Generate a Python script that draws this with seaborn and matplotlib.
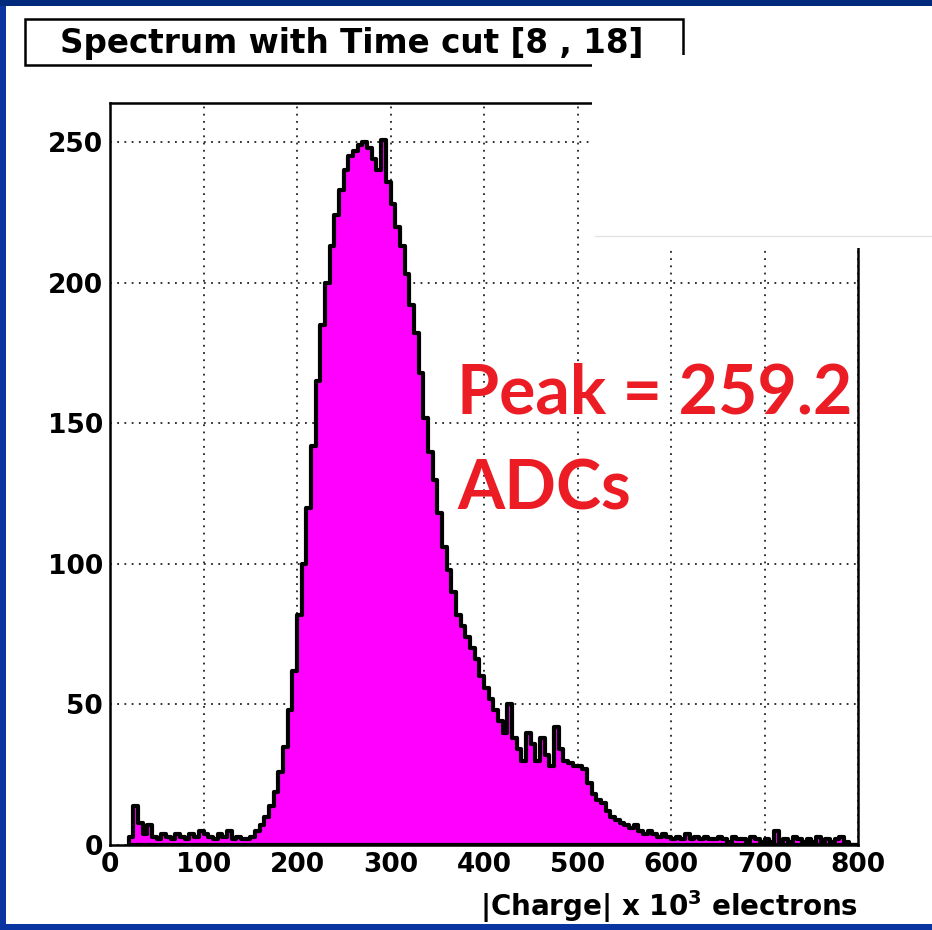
import numpy as np
import pandas as pd
import seaborn as sns
import matplotlib.pyplot as plt
from matplotlib.patches import Rectangle
from matplotlib.ticker import MultipleLocator

TITLE = "Spectrum with Time cut [8 , 18]"
X_LABEL = r"|Charge| x 10$^{\mathbf{3}}$ electrons"
NOTE_1 = "Peak = 259.2"
NOTE_2 = "ADCs"

# histogram counts, 5 units per bin starting at 20
BIN_START = 20
BIN_WIDTH = 5
counts = [
    3, 14, 8, 4, 7, 3, 2, 4, 3, 2,          # 20 - 65
    4, 3, 2, 4, 3, 5, 4, 3, 2, 4,           # 70 - 115
    3, 5, 2, 3, 2, 2, 3, 5, 7, 10,          # 120 - 165
    14, 19, 26, 35, 48, 62, 82, 100, 120, 142,   # 170 - 215
    165, 185, 200, 213, 224, 233, 240, 245, 247, 249,   # 220 - 265
    250, 248, 244, 240, 251, 236, 228, 220, 213, 203,   # 270 - 315
    192, 182, 168, 152, 140, 130, 118, 106, 98, 90,     # 320 - 365
    82, 78, 74, 70, 66, 60, 56, 52, 48, 44,             # 370 - 415
    40, 50, 38, 34, 30, 40, 36, 30, 38, 32,             # 420 - 465
    28, 42, 34, 30, 29, 28, 28, 27, 22, 18,             # 470 - 515
    16, 15, 12, 10, 9, 8, 7, 6, 7, 5,                   # 520 - 565
    4, 5, 4, 3, 4, 3, 2, 3, 2, 4,                       # 570 - 615
    2, 3, 2, 3, 2, 2, 3, 2, 1, 3,                       # 620 - 665
    2, 2, 1, 3, 2, 1, 2, 1, 5, 1,                       # 670 - 715
    2, 1, 3, 2, 1, 2, 1, 3, 1, 2,                       # 720 - 765
    1, 2, 3, 1, 0, 0,                                   # 770 - 795
]
x_ticks = [0, 100, 200, 300, 400, 500, 600, 700, 800]
y_ticks = [0, 50, 100, 150, 200, 250]

W, H = 932, 930


def px_rect(fig, x0, y0, x1, y1, **kw):
    # rectangle given in pixels from the top-left corner of the image
    r = Rectangle((x0 / W, 1 - y1 / H), (x1 - x0) / W, (y1 - y0) / H,
                  transform=fig.transFigure, **kw)
    fig.add_artist(r)
    return r


def draw():
    sns.set_style("white")
    plt.rcParams["font.family"] = ["DejaVu Sans"]
    plt.rcParams["font.weight"] = "bold"
    plt.rcParams["mathtext.default"] = "bf"
    plt.rcParams["text.color"] = "black"
    plt.rcParams["axes.labelcolor"] = "black"
    plt.rcParams["xtick.color"] = "black"
    plt.rcParams["ytick.color"] = "black"

    fig = plt.figure(figsize=(W / 100, H / 100), dpi=100)
    fig.patch.set_facecolor("white")
    ax = fig.add_axes([110 / W, 1 - 845 / H, 748 / W, 742 / H])

    df = pd.DataFrame({
        "charge": BIN_START + BIN_WIDTH * (np.arange(len(counts)) + 0.5),
        "count": counts,
    })
    sns.histplot(ax=ax, data=df, x="charge", weights="count",
                 binwidth=BIN_WIDTH,
                 binrange=(BIN_START, BIN_START + BIN_WIDTH * len(counts)),
                 element="step", fill=True, color="#ff00ff", alpha=1,
                 edgecolor="black", linewidth=3)

    ax.set_xlim(0, 800)
    ax.set_ylim(0, 264)
    ax.set_xticks(x_ticks)
    ax.set_yticks(y_ticks)
    ax.xaxis.set_minor_locator(MultipleLocator(20))
    ax.yaxis.set_minor_locator(MultipleLocator(10))
    ax.tick_params(which="major", direction="in", length=14, width=1.6,
                   labelsize=19, top=False, right=False, colors="black")
    ax.tick_params(which="minor", direction="in", length=8, width=1.4,
                   colors="black")
    ax.tick_params(axis="x", pad=5)
    ax.tick_params(axis="y", pad=5)
    for lab in ax.get_xticklabels() + ax.get_yticklabels():
        lab.set_fontweight("bold")

    ax.set_axisbelow(True)
    ax.grid(True, which="major", color="#222222", linestyle=(0, (1, 3)),
            linewidth=1.3)
    for s in ax.spines.values():
        s.set_visible(True)
        s.set_color("black")
        s.set_linewidth(1.8)

    ax.set_ylabel("")
    ax.set_xlabel(X_LABEL, fontsize=20, fontweight="bold", loc="right",
                  labelpad=7, color="black")

    fig.text(457 / W, 1 - 413 / H, NOTE_1, color="#ec1c24", fontsize=49,
             fontweight="bold", family=["Lato", "DejaVu Sans"],
             va="baseline", ha="left")
    fig.text(457 / W, 1 - 509 / H, NOTE_2, color="#ec1c24", fontsize=49,
             fontweight="bold", family=["Lato", "DejaVu Sans"],
             va="baseline", ha="left")

    # pasted white patch at the top right that hides part of the frame
    px_rect(fig, 592, 55, W, 248, facecolor="white", edgecolor="none",
            zorder=5)
    fig.add_artist(plt.Line2D([595 / W, 1], [1 - 236 / H, 1 - 236 / H],
                              transform=fig.transFigure, color="#e4e4e4",
                              linewidth=1, zorder=6))

    # title box
    px_rect(fig, 25, 19, 683, 65, facecolor="white", edgecolor="black",
            linewidth=1.8, zorder=4)
    fig.text(352 / W, 1 - 43 / H, TITLE, ha="center", va="center",
             fontsize=23.5, fontweight="bold", color="black", zorder=7)

    # blue slide border
    px_rect(fig, 0, 0, 6, H, facecolor="#0a34a0", edgecolor="none", zorder=8)
    px_rect(fig, 0, 0, W, 6, facecolor="#002a7c", edgecolor="none", zorder=8)
    px_rect(fig, 0, H - 6, W, H, facecolor="#0a34a0", edgecolor="none",
            zorder=8)

    fig.savefig("out.png", dpi=100)


if __name__ == '__main__':
    draw()
